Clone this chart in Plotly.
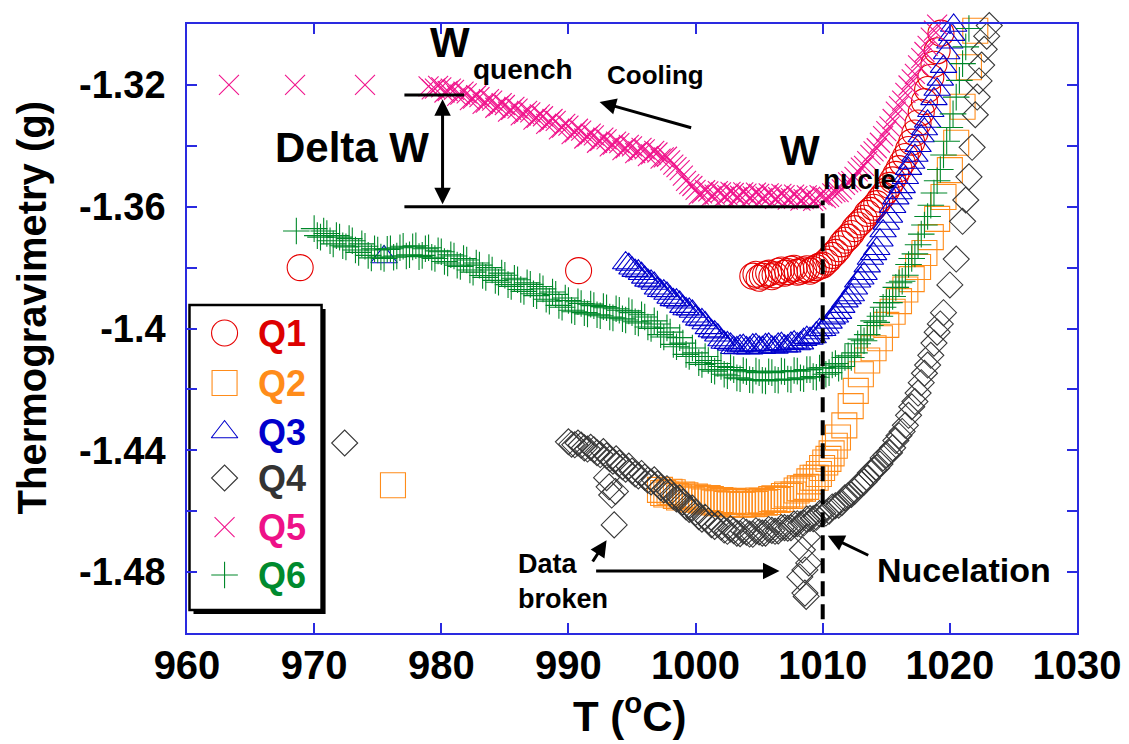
import plotly.graph_objects as go

# ---- measured thermogravimetry curves: (T in degC, weight in g) ----
q1 = [(968.9, -1.3800), (990.8, -1.3810),
      (1004.5, -1.3828), (1005.0, -1.3835), (1005.5, -1.3822), (1006.0, -1.3830), (1006.5, -1.3812),
      (1007.0, -1.3818), (1007.5, -1.3805), (1008.0, -1.3815), (1008.5, -1.3808), (1009.0, -1.3812),
      (1009.5, -1.3800), (1010.0, -1.3792), (1010.5, -1.3772), (1011.0, -1.3750), (1011.5, -1.3722),
      (1012.0, -1.3700), (1012.5, -1.3672), (1013.0, -1.3650), (1013.5, -1.3622), (1014.0, -1.3602),
      (1014.5, -1.3575), (1015.0, -1.3548), (1015.5, -1.3512), (1016.0, -1.3475), (1016.5, -1.3435),
      (1017.0, -1.3388), (1017.5, -1.3325), (1018.0, -1.3255), (1018.5, -1.3175), (1019.0, -1.3088),
      (1019.3, -1.3030), (1019.6, -1.2995),
      (1004.75, -1.3822), (1005.25, -1.3828), (1005.75, -1.3818), (1006.25, -1.3824), (1006.75, -1.3808),
      (1007.25, -1.3813), (1007.75, -1.3802), (1008.25, -1.3812), (1008.75, -1.3804), (1009.25, -1.3806),
      (1009.75, -1.3795), (1010.25, -1.3782), (1010.75, -1.3760), (1011.25, -1.3738), (1011.75, -1.3710),
      (1012.25, -1.3688), (1012.75, -1.3660), (1013.25, -1.3638), (1013.75, -1.3612), (1014.25, -1.3590),
      (1014.75, -1.3562), (1015.25, -1.3530), (1015.75, -1.3494), (1016.25, -1.3455), (1016.75, -1.3412),
      (1017.25, -1.3358), (1017.75, -1.3290), (1018.25, -1.3215), (1018.75, -1.3132)]

q2 = [(976.2, -1.4515),
      (997.2, -1.4530), (997.7, -1.4545), (998.2, -1.4538), (998.7, -1.4555), (999.2, -1.4548),
      (999.7, -1.4562), (1000.2, -1.4555), (1000.7, -1.4568), (1001.2, -1.4560), (1001.7, -1.4574),
      (1002.2, -1.4566), (1002.7, -1.4578), (1003.2, -1.4570), (1003.7, -1.4579), (1004.2, -1.4571),
      (1004.7, -1.4576), (1005.2, -1.4566), (1005.7, -1.4570), (1006.2, -1.4558), (1006.7, -1.4560),
      (1007.2, -1.4545), (1007.7, -1.4545), (1008.2, -1.4525), (1008.7, -1.4520), (1009.2, -1.4490),
      (1009.7, -1.4478), (1010.2, -1.4440), (1010.7, -1.4410), (1011.2, -1.4358), (1011.7, -1.4318),
      (1012.2, -1.4255), (1012.6, -1.4205), (1013.0, -1.4150), (1013.5, -1.4105), (1014.0, -1.4065),
      (1014.5, -1.4032), (1015.0, -1.3988), (1015.5, -1.3945), (1016.0, -1.3910), (1016.5, -1.3872),
      (1017.0, -1.3838), (1017.5, -1.3798), (1018.0, -1.3752), (1018.5, -1.3700), (1019.0, -1.3640),
      (1019.5, -1.3568), (1020.0, -1.3480), (1020.5, -1.3390), (1021.0, -1.3272), (1021.5, -1.3142),
      (1022.0, -1.3022),
      (997.45, -1.4540), (997.95, -1.4536), (998.45, -1.4550), (998.95, -1.4545), (999.45, -1.4559),
      (999.95, -1.4552), (1000.45, -1.4565), (1000.95, -1.4557), (1001.45, -1.4571), (1001.95, -1.4563),
      (1002.45, -1.4576), (1002.95, -1.4566), (1003.45, -1.4578), (1003.95, -1.4568), (1004.45, -1.4577),
      (1004.95, -1.4565), (1005.45, -1.4572), (1005.95, -1.4560), (1006.45, -1.4563), (1006.95, -1.4550),
      (1007.45, -1.4550), (1007.95, -1.4532), (1008.45, -1.4526), (1008.95, -1.4502), (1009.45, -1.4490),
      (1009.95, -1.4458), (1010.45, -1.4428), (1010.95, -1.4385)]

q3 = [(975.5, -1.3765),
      (994.5, -1.3785), (995.0, -1.3802), (995.5, -1.3812), (996.0, -1.3832), (996.5, -1.3845),
      (997.0, -1.3868), (997.5, -1.3877), (998.0, -1.3898), (998.5, -1.3907), (999.0, -1.3928),
      (999.5, -1.3937), (1000.0, -1.3960), (1000.5, -1.3972), (1001.0, -1.3998), (1001.5, -1.4012),
      (1002.0, -1.4038), (1002.5, -1.4047), (1003.0, -1.4063), (1003.5, -1.4058), (1004.0, -1.4064),
      (1004.5, -1.4055), (1005.0, -1.4062), (1005.5, -1.4054), (1006.0, -1.4061), (1006.5, -1.4052),
      (1007.0, -1.4058), (1007.5, -1.4049), (1008.0, -1.4051), (1008.5, -1.4037), (1009.0, -1.4033),
      (1009.5, -1.4015), (1010.0, -1.4004), (1010.5, -1.3980), (1011.0, -1.3960), (1011.5, -1.3928),
      (1012.0, -1.3900), (1012.5, -1.3868), (1013.0, -1.3835), (1013.5, -1.3795), (1014.0, -1.3755),
      (1014.5, -1.3710), (1015.0, -1.3655), (1015.5, -1.3600), (1016.0, -1.3555), (1016.5, -1.3505),
      (1017.0, -1.3455), (1017.5, -1.3400), (1018.0, -1.3345), (1018.5, -1.3285), (1019.0, -1.3215),
      (1019.5, -1.3140), (1020.0, -1.3060), (1020.3, -1.3005),
      (994.75, -1.3790), (995.25, -1.3810), (995.75, -1.3820), (996.25, -1.3842), (996.75, -1.3852),
      (997.25, -1.3876), (997.75, -1.3885), (998.25, -1.3906), (998.75, -1.3914), (999.25, -1.3936),
      (999.75, -1.3944), (1000.25, -1.3970), (1000.75, -1.3982), (1001.25, -1.4008), (1001.75, -1.4022),
      (1002.25, -1.4046), (1002.75, -1.4052), (1003.25, -1.4064), (1003.75, -1.4056), (1004.25, -1.4065),
      (1004.75, -1.4054), (1005.25, -1.4063), (1005.75, -1.4052), (1006.25, -1.4062), (1006.75, -1.4050),
      (1007.25, -1.4058), (1007.75, -1.4045), (1008.25, -1.4048), (1008.75, -1.4030), (1009.25, -1.4028),
      (1009.75, -1.4005), (1010.25, -1.3996), (1010.75, -1.3966), (1011.25, -1.3948), (1011.75, -1.3910),
      (1012.25, -1.3890), (1012.75, -1.3845), (1013.25, -1.3820), (1013.75, -1.3770), (1014.25, -1.3738),
      (1014.75, -1.3680), (1015.25, -1.3632), (1015.75, -1.3572), (1016.25, -1.3535), (1016.75, -1.3475),
      (1017.25, -1.3432), (1017.75, -1.3368), (1018.25, -1.3320), (1018.75, -1.3246), (1019.25, -1.3182),
      (1019.75, -1.3095), (1020.15, -1.3035)]

q4 = [(972.4, -1.4376),
      (990.0, -1.4372), (990.5, -1.4382), (991.0, -1.4383), (991.5, -1.4396), (992.0, -1.4398),
      (992.5, -1.4414), (993.0, -1.4418), (993.0, -1.4490), (993.2, -1.4520), (993.4, -1.4547),
      (993.7, -1.4535), (993.6, -1.4645), (993.5, -1.4436), (994.0, -1.4442), (994.5, -1.4462),
      (995.0, -1.4468), (995.5, -1.4484), (996.0, -1.4488), (996.5, -1.4504), (997.0, -1.4510),
      (997.5, -1.4530), (998.0, -1.4538), (998.5, -1.4560), (999.0, -1.4570), (999.5, -1.4594),
      (1000.0, -1.4604), (1000.5, -1.4626), (1001.0, -1.4632), (1001.5, -1.4650), (1002.0, -1.4652),
      (1002.5, -1.4666), (1003.0, -1.4664), (1003.5, -1.4674), (1004.0, -1.4669), (1004.5, -1.4676),
      (1005.0, -1.4668), (1005.5, -1.4672), (1006.0, -1.4663), (1006.5, -1.4665), (1007.0, -1.4654),
      (1007.5, -1.4654), (1008.0, -1.4641), (1008.5, -1.4639), (1008.8, -1.4685), (1008.4, -1.4727),
      (1008.9, -1.4770), (1008.6, -1.4793), (1008.2, -1.4816), (1008.6, -1.4869), (1008.7, -1.4880),
      (1009.0, -1.4624), (1009.5, -1.4620), (1010.0, -1.4605), (1010.5, -1.4600), (1011.0, -1.4582),
      (1011.5, -1.4572), (1012.0, -1.4549), (1012.5, -1.4535), (1013.0, -1.4509), (1013.5, -1.4492),
      (1014.0, -1.4464), (1014.5, -1.4445), (1015.0, -1.4415), (1015.5, -1.4392), (1016.0, -1.4352),
      (1016.5, -1.4318), (1017.0, -1.4257), (1017.5, -1.4212), (1018.0, -1.4147), (1018.5, -1.4088),
      (1019.0, -1.4012), (1019.5, -1.3948), (1020.0, -1.3857), (1020.5, -1.3772), (1021.0, -1.3648),
      (1021.25, -1.3578), (1021.5, -1.3502), (1021.75, -1.3405), (1022.0, -1.3298), (1022.15, -1.3240),
      (1022.3, -1.3187), (1022.5, -1.3135), (1022.7, -1.3083), (1022.9, -1.3040), (1023.1, -1.3005),
      (990.25, -1.4380), (990.75, -1.4376), (991.25, -1.4392), (991.75, -1.4390), (992.25, -1.4408),
      (992.75, -1.4404), (993.25, -1.4428), (993.75, -1.4428), (994.25, -1.4454), (994.75, -1.4452),
      (995.25, -1.4478), (995.75, -1.4476), (996.25, -1.4498), (996.75, -1.4497), (997.25, -1.4522),
      (997.75, -1.4526), (998.25, -1.4552), (998.75, -1.4556), (999.25, -1.4586), (999.75, -1.4590),
      (1000.25, -1.4618), (1000.75, -1.4620), (1001.25, -1.4644), (1001.75, -1.4642), (1002.25, -1.4662),
      (1002.75, -1.4658), (1003.25, -1.4672), (1003.75, -1.4664), (1004.25, -1.4675), (1004.75, -1.4664),
      (1005.25, -1.4672), (1005.75, -1.4660), (1006.25, -1.4666), (1006.75, -1.4654), (1007.25, -1.4656),
      (1007.75, -1.4642), (1008.25, -1.4643), (1008.75, -1.4626), (1009.25, -1.4625), (1009.75, -1.4608),
      (1010.25, -1.4606), (1010.75, -1.4586), (1011.25, -1.4580), (1011.75, -1.4556), (1012.25, -1.4545),
      (1012.75, -1.4518), (1013.25, -1.4504), (1013.75, -1.4474), (1014.25, -1.4458), (1014.75, -1.4425),
      (1015.25, -1.4408), (1015.75, -1.4368), (1016.25, -1.4338), (1016.75, -1.4285), (1017.25, -1.4240),
      (1017.75, -1.4178), (1018.25, -1.4120), (1018.75, -1.4048), (1019.25, -1.3985)]

q5 = [(963.3, -1.3200), (968.5, -1.3200), (974.0, -1.3200),
      (979.0, -1.3205), (979.5, -1.3212), (980.0, -1.3208), (980.5, -1.3220), (981.0, -1.3216),
      (981.5, -1.3232), (982.0, -1.3228), (982.5, -1.3245), (983.0, -1.3240), (983.5, -1.3258),
      (984.0, -1.3252), (984.5, -1.3270), (985.0, -1.3266), (985.5, -1.3282), (986.0, -1.3278),
      (986.5, -1.3295), (987.0, -1.3290), (987.5, -1.3308), (988.0, -1.3303), (988.5, -1.3322),
      (989.0, -1.3318), (989.5, -1.3340), (990.0, -1.3334), (990.5, -1.3356), (991.0, -1.3350),
      (991.5, -1.3370), (992.0, -1.3366), (992.5, -1.3384), (993.0, -1.3379), (993.5, -1.3396),
      (994.0, -1.3391), (994.5, -1.3408), (995.0, -1.3402), (995.5, -1.3418), (996.0, -1.3412),
      (996.5, -1.3428), (997.0, -1.3422), (997.5, -1.3438), (998.0, -1.3448), (998.5, -1.3470),
      (999.0, -1.3498), (999.5, -1.3526), (1000.0, -1.3545), (1000.5, -1.3556), (1001.0, -1.3550),
      (1001.5, -1.3560), (1002.0, -1.3553), (1002.5, -1.3562), (1003.0, -1.3555), (1003.5, -1.3564),
      (1004.0, -1.3557), (1004.5, -1.3566), (1005.0, -1.3558), (1005.5, -1.3567), (1006.0, -1.3560),
      (1006.5, -1.3569), (1007.0, -1.3562), (1007.5, -1.3572), (1008.0, -1.3565), (1008.5, -1.3575),
      (1009.0, -1.3568), (1009.5, -1.3576), (1010.0, -1.3566), (1010.5, -1.3568), (1011.0, -1.3552),
      (1011.5, -1.3543), (1012.0, -1.3520), (1012.5, -1.3502), (1013.0, -1.3472), (1013.5, -1.3450),
      (1014.0, -1.3418), (1014.5, -1.3390), (1015.0, -1.3352), (1015.5, -1.3312), (1016.0, -1.3270),
      (1016.5, -1.3226), (1017.0, -1.3182), (1017.5, -1.3136), (1018.0, -1.3092), (1018.5, -1.3045),
      (1019.0, -1.3002),
      (979.25, -1.3215), (979.75, -1.3203), (980.25, -1.3225), (980.75, -1.3212), (981.25, -1.3236),
      (981.75, -1.3222), (982.25, -1.3250), (982.75, -1.3234), (983.25, -1.3262), (983.75, -1.3247),
      (984.25, -1.3275), (984.75, -1.3260), (985.25, -1.3288), (985.75, -1.3272), (986.25, -1.3300),
      (986.75, -1.3285), (987.25, -1.3314), (987.75, -1.3297), (988.25, -1.3328), (988.75, -1.3312),
      (989.25, -1.3346), (989.75, -1.3328), (990.25, -1.3362), (990.75, -1.3344), (991.25, -1.3376),
      (991.75, -1.3360), (992.25, -1.3390), (992.75, -1.3373), (993.25, -1.3402), (993.75, -1.3386),
      (994.25, -1.3414), (994.75, -1.3397), (995.25, -1.3424), (995.75, -1.3407), (996.25, -1.3434),
      (996.75, -1.3417), (997.25, -1.3442), (997.75, -1.3436), (998.25, -1.3462), (998.75, -1.3480),
      (999.25, -1.3515), (999.75, -1.3532), (1000.25, -1.3560), (1000.75, -1.3546), (1001.25, -1.3565),
      (1001.75, -1.3549), (1002.25, -1.3567), (1002.75, -1.3551), (1003.25, -1.3569), (1003.75, -1.3553),
      (1004.25, -1.3571), (1004.75, -1.3554), (1005.25, -1.3572), (1005.75, -1.3556), (1006.25, -1.3574),
      (1006.75, -1.3558), (1007.25, -1.3577), (1007.75, -1.3560), (1008.25, -1.3580), (1008.75, -1.3563),
      (1009.25, -1.3581), (1009.75, -1.3562), (1010.25, -1.3572), (1010.75, -1.3556), (1011.25, -1.3552),
      (1011.75, -1.3528), (1012.25, -1.3516), (1012.75, -1.3484), (1013.25, -1.3466), (1013.75, -1.3430),
      (1014.25, -1.3408), (1014.75, -1.3368), (1015.25, -1.3336), (1015.75, -1.3288), (1016.25, -1.3252),
      (1016.75, -1.3202), (1017.25, -1.3164), (1017.75, -1.3112), (1018.25, -1.3072), (1018.75, -1.3022)]

q6 = [(968.6, -1.3680),
      (970.0, -1.3672), (970.5, -1.3700), (971.0, -1.3688), (971.5, -1.3722), (972.0, -1.3700),
      (972.5, -1.3732), (973.0, -1.3712), (973.5, -1.3750), (974.0, -1.3730), (974.5, -1.3768),
      (975.0, -1.3742), (975.5, -1.3770), (976.0, -1.3738), (976.5, -1.3762), (977.0, -1.3730),
      (977.5, -1.3758), (978.0, -1.3728), (978.5, -1.3760), (979.0, -1.3735), (979.5, -1.3770),
      (980.0, -1.3748), (980.5, -1.3785), (981.0, -1.3762), (981.5, -1.3796), (982.0, -1.3775),
      (982.5, -1.3815), (983.0, -1.3792), (983.5, -1.3832), (984.0, -1.3808), (984.5, -1.3848),
      (985.0, -1.3825), (985.5, -1.3862), (986.0, -1.3840), (986.5, -1.3878), (987.0, -1.3855),
      (987.5, -1.3892), (988.0, -1.3870), (988.5, -1.3910), (989.0, -1.3888), (989.5, -1.3930),
      (990.0, -1.3908), (990.5, -1.3945), (991.0, -1.3918), (991.5, -1.3952), (992.0, -1.3925),
      (992.5, -1.3958), (993.0, -1.3932), (993.5, -1.3965), (994.0, -1.3940), (994.5, -1.3972),
      (995.0, -1.3948), (995.5, -1.3982), (996.0, -1.3962), (996.5, -1.4000), (997.0, -1.3985),
      (997.5, -1.4028), (998.0, -1.4012), (998.5, -1.4060), (999.0, -1.4048), (999.5, -1.4092),
      (1000.0, -1.4080), (1000.5, -1.4118), (1001.0, -1.4105), (1001.5, -1.4140), (1002.0, -1.4125),
      (1002.5, -1.4155), (1003.0, -1.4135), (1003.5, -1.4165), (1004.0, -1.4142), (1004.5, -1.4170),
      (1005.0, -1.4145), (1005.5, -1.4172), (1006.0, -1.4145), (1006.5, -1.4170), (1007.0, -1.4142),
      (1007.5, -1.4168), (1008.0, -1.4140), (1008.5, -1.4165), (1009.0, -1.4135), (1009.5, -1.4160),
      (1010.0, -1.4128), (1010.5, -1.4145), (1011.0, -1.4115), (1011.5, -1.4125), (1012.0, -1.4090),
      (1012.5, -1.4080), (1013.0, -1.4035), (1013.5, -1.4020), (1014.0, -1.3975), (1014.5, -1.3960),
      (1015.0, -1.3915), (1015.5, -1.3895), (1016.0, -1.3850), (1016.5, -1.3825), (1017.0, -1.3770),
      (1017.5, -1.3725), (1018.0, -1.3660), (1018.5, -1.3595), (1019.0, -1.3515), (1019.5, -1.3430),
      (1020.0, -1.3340), (1020.5, -1.3240), (1021.0, -1.3130), (1021.5, -1.3015),
      (970.25, -1.3695), (970.75, -1.3680), (971.25, -1.3712), (971.75, -1.3695), (972.25, -1.3728),
      (972.75, -1.3705), (973.25, -1.3742), (973.75, -1.3722), (974.25, -1.3760), (974.75, -1.3738),
      (975.25, -1.3765), (975.75, -1.3740), (976.25, -1.3766), (976.75, -1.3735), (977.25, -1.3762),
      (977.75, -1.3732), (978.25, -1.3764), (978.75, -1.3738), (979.25, -1.3766), (979.75, -1.3745),
      (980.25, -1.3780), (980.75, -1.3758), (981.25, -1.3792), (981.75, -1.3770), (982.25, -1.3808),
      (982.75, -1.3785), (983.25, -1.3826), (983.75, -1.3800), (984.25, -1.3842), (984.75, -1.3818),
      (985.25, -1.3856), (985.75, -1.3835), (986.25, -1.3872), (986.75, -1.3850), (987.25, -1.3886),
      (987.75, -1.3862), (988.25, -1.3904), (988.75, -1.3880), (989.25, -1.3924), (989.75, -1.3900),
      (990.25, -1.3940), (990.75, -1.3912), (991.25, -1.3948), (991.75, -1.3920), (992.25, -1.3955),
      (992.75, -1.3928), (993.25, -1.3962), (993.75, -1.3935), (994.25, -1.3968), (994.75, -1.3942),
      (995.25, -1.3978), (995.75, -1.3955), (996.25, -1.3995), (996.75, -1.3975), (997.25, -1.4020),
      (997.75, -1.3998), (998.25, -1.4052), (998.75, -1.4030), (999.25, -1.4085), (999.75, -1.4064),
      (1000.25, -1.4112), (1000.75, -1.4092), (1001.25, -1.4135), (1001.75, -1.4115), (1002.25, -1.4150),
      (1002.75, -1.4128), (1003.25, -1.4162), (1003.75, -1.4138), (1004.25, -1.4168), (1004.75, -1.4140),
      (1005.25, -1.4170), (1005.75, -1.4142), (1006.25, -1.4168), (1006.75, -1.4140), (1007.25, -1.4166),
      (1007.75, -1.4138), (1008.25, -1.4162), (1008.75, -1.4135), (1009.25, -1.4158), (1009.75, -1.4130),
      (1010.25, -1.4150), (1010.75, -1.4120), (1011.25, -1.4130), (1011.75, -1.4095), (1012.25, -1.4095),
      (1012.75, -1.4050), (1013.25, -1.4040), (1013.75, -1.3990), (1014.25, -1.3980), (1014.75, -1.3930),
      (1015.25, -1.3915), (1015.75, -1.3865), (1016.25, -1.3845), (1016.75, -1.3790), (1017.25, -1.3755),
      (1017.75, -1.3690), (1018.25, -1.3632), (1018.75, -1.3555), (1019.25, -1.3478), (1019.75, -1.3385),
      (1020.25, -1.3295), (1020.75, -1.3185), (1021.25, -1.3075)]

series_names = ["Q1", "Q2", "Q3", "Q4", "Q5", "Q6"]
x_ticks = [960, 970, 980, 990, 1000, 1010, 1020, 1030]
y_ticks = [-1.48, -1.44, -1.40, -1.36, -1.32]
y_tick_text = ["-1.48", "-1.44", "-1.4", "-1.36", "-1.32"]
y_minor = [-1.50, -1.46, -1.42, -1.38, -1.34, -1.30]

# ---- styling ----
FONT = "Liberation Sans, Arial, sans-serif"
AXIS = "#2a2ae0"
styles = {
    "Q1": dict(symbol="circle-open", size=26, color="#e60000", text="#dd0000"),
    "Q2": dict(symbol="square-open", size=25, color="#ff8c1a", text="#ff8c1a"),
    "Q3": dict(symbol="triangle-up-open", size=23, color="#0000cc", text="#0000cc"),
    "Q4": dict(symbol="diamond-open", size=20, color="#383838", text="#333333"),
    "Q5": dict(symbol="x-thin-open", size=20, color="#f0148c", text="#ee1188"),
    "Q6": dict(symbol="cross-thin-open", size=19, color="#00882a", text="#008a2e"),
}
data = {"Q1": q1, "Q2": q2, "Q3": q3, "Q4": q4, "Q5": q5, "Q6": q6}

fig = go.Figure()
for name in series_names:
    st = styles[name]
    pts = data[name]
    fig.add_trace(go.Scatter(
        x=[p[0] for p in pts], y=[p[1] for p in pts], mode="markers", name=name,
        marker=dict(symbol=st["symbol"], size=st["size"], color=st["color"],
                    line=dict(color=st["color"], width=1.1)),
        cliponaxis=False, showlegend=False, hoverinfo="skip"))

# ---- hand-drawn legend box (glyphs on an overlay axis spanning the plot area) ----
leg_x0, leg_x1, leg_y0, leg_y1 = 0.0028, 0.1512, 0.0378, 0.5386
row_y = [0.4926, 0.4105, 0.3300, 0.2545, 0.1740, 0.0952]
glyph_x = 0.0422
text_x = 0.077
shapes = [
    dict(type="rect", xref="paper", yref="paper", x0=leg_x0 + 0.0045, x1=leg_x1 + 0.0045,
         y0=leg_y0 - 0.0066, y1=leg_y1 - 0.0066, fillcolor="black", line=dict(width=0), layer="below"),
    dict(type="rect", xref="paper", yref="paper", x0=leg_x0, x1=leg_x1, y0=leg_y0, y1=leg_y1,
         fillcolor="white", line=dict(color="black", width=2.5), layer="below"),
]
annotations = []
for name, ry in zip(series_names, row_y):
    st = styles[name]
    fig.add_trace(go.Scatter(
        x=[glyph_x], y=[ry], xaxis="x2", yaxis="y2", mode="markers", showlegend=False,
        hoverinfo="skip", cliponaxis=False,
        marker=dict(symbol=st["symbol"], size=st["size"], color=st["color"],
                    line=dict(color=st["color"], width=1.1))))
    annotations.append(dict(xref="paper", yref="paper", x=text_x, y=ry, xanchor="left",
                            yanchor="middle", showarrow=False, text="<b>%s</b>" % name,
                            font=dict(family=FONT, size=36, color=st["text"])))

# ---- reference lines ----
shapes += [
    dict(type="line", xref="x", yref="y", x0=977.1, x1=981.8, y0=-1.3233, y1=-1.3233,
         line=dict(color="black", width=3)),
    dict(type="line", xref="x", yref="y", x0=977.1, x1=1009.7, y0=-1.3600, y1=-1.3600,
         line=dict(color="black", width=3)),
    dict(type="line", xref="x", yref="y", x0=1010, x1=1010, y0=-1.4955, y1=-1.3580,
         line=dict(color="black", width=4, dash="15px,8px")),
]

# ---- text labels ----
def label(x, y, text, size, xanchor="center"):
    annotations.append(dict(xref="x", yref="y", x=x, y=y, text="<b>%s</b>" % text, showarrow=False,
                            xanchor=xanchor, yanchor="middle", align="left",
                            font=dict(family=FONT, size=size, color="black")))

label(980.65, -1.3062, "W", 42)
label(986.4, -1.3151, "quench", 28)
label(996.86, -1.3167, "Cooling", 26)
label(972.95, -1.3407, "Delta W", 42)
label(1008.2, -1.3417, "W", 42)
label(1012.9, -1.3512, "nucle", 28)
label(1021.1, -1.4793, "Nucelation", 34)
label(985.9, -1.4832, "Data<br>broken", 27, xanchor="left")

# ---- arrows ----
def arrow(x, y, ax, ay, both=False):
    a = dict(xref="x", yref="y", axref="x", ayref="y", x=x, y=y, ax=ax, ay=ay, text="",
             showarrow=True, arrowhead=2, arrowsize=1.1, arrowwidth=3, arrowcolor="black",
             standoff=0, startstandoff=0)
    if both:
        a.update(arrowside="end+start", startarrowhead=2, startarrowsize=1.1)
    annotations.append(a)

arrow(992.45, -1.3256, 999.77, -1.3342)          # cooling direction
arrow(980.1, -1.3592, 980.1, -1.3242, both=True)  # Delta W span
arrow(993.0, -1.4695, 991.83, -1.4770)           # broken point (left)
arrow(1006.6, -1.4796, 992.06, -1.4796)          # broken points (right)
arrow(1010.4, -1.4681, 1013.7, -1.4747)          # nucleation point

# ---- axis titles ----
annotations.append(dict(xref="paper", yref="paper", x=-0.1737, y=0.5337, textangle=-90,
                        xanchor="center", yanchor="middle",
                        text="<b>Thermogravimetry (g)</b>", showarrow=False,
                        font=dict(family=FONT, size=40, color="black")))
annotations.append(dict(xref="paper", yref="paper", x=0.4975, y=-0.1314,
                        xanchor="center", yanchor="middle",
                        text="<b>T (<sup>o</sup>C)</b>", showarrow=False,
                        font=dict(family=FONT, size=42, color="black")))

fig.update_layout(
    width=1129, height=744,
    margin=dict(l=187, r=52, t=24, b=111),
    paper_bgcolor="white", plot_bgcolor="white",
    showlegend=False,
    shapes=shapes, annotations=annotations,
    xaxis=dict(range=[960, 1030], tickmode="array", tickvals=x_ticks, automargin=False,
               ticks="inside", ticklen=10, tickwidth=1.5, tickcolor=AXIS,
               showline=True, linecolor=AXIS, linewidth=1.5, mirror="ticks",
               showgrid=False, zeroline=False, ticklabelstandoff=-4,
               tickfont=dict(family=FONT, size=40, color="black", weight="bold")),
    yaxis=dict(range=[-1.50, -1.30], tickmode="array", tickvals=y_ticks, ticktext=y_tick_text,
               automargin=False,
               ticks="inside", ticklen=10, tickwidth=1.5, tickcolor=AXIS,
               minor=dict(tickmode="array", tickvals=y_minor, ticks="inside", ticklen=10,
                          tickwidth=1.5, tickcolor=AXIS),
               showline=True, linecolor=AXIS, linewidth=1.5, mirror="ticks",
               showgrid=False, zeroline=False, ticklabelstandoff=12,
               tickfont=dict(family=FONT, size=38, color="black", weight="bold")),
    xaxis2=dict(overlaying="x", range=[0, 1], visible=False, fixedrange=True),
    yaxis2=dict(overlaying="y", range=[0, 1], visible=False, fixedrange=True),
)

fig.write_html("out.html")
